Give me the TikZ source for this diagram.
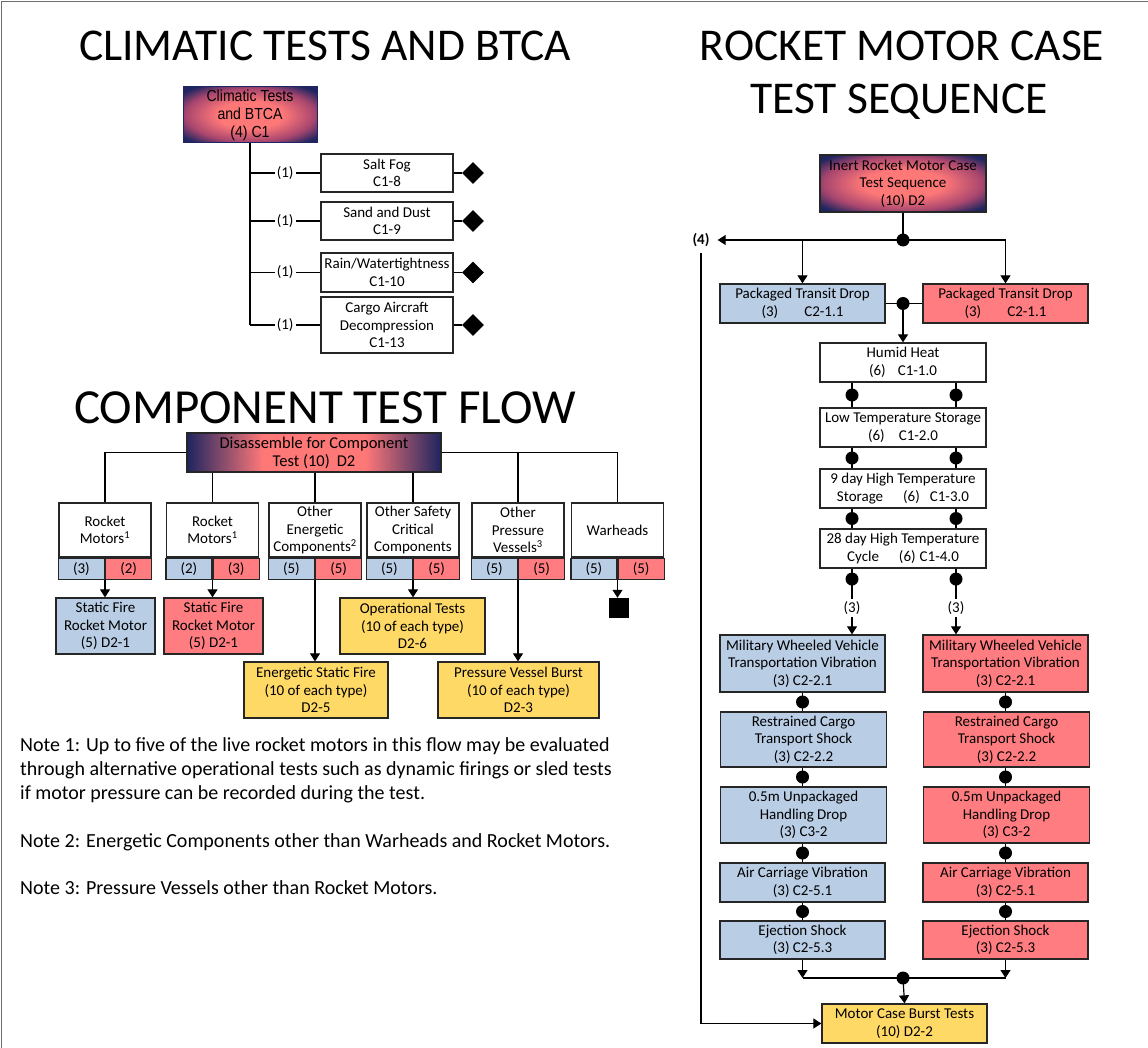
\documentclass[tikz,border=0pt]{standalone}
\usepackage{fontspec}
\setmainfont{Carlito}
\newfontfamily\narrowsans[FakeStretch=0.88]{Liberation Sans}
\usetikzlibrary{arrows.meta,shapes.geometric,calc}

\definecolor{gnavy}{HTML}{1E2560}
\definecolor{gpink}{HTML}{FF7878}
\definecolor{gmid}{HTML}{A8466E}
\definecolor{bluebox}{HTML}{B9CDE5}
\definecolor{redbox}{HTML}{FF7C80}
\definecolor{yelbox}{HTML}{FFD966}
\definecolor{edge}{HTML}{262626}
\definecolor{frame}{HTML}{6E6E6E}

\pgfdeclareradialshading{glow}{\pgfpoint{0bp}{0bp}}{color(0bp)=(gpink); color(12bp)=(gpink); color(24bp)=(gmid); color(32bp)=(gnavy); color(50bp)=(gnavy)}
\pgfdeclarehorizontalshading{band}{100bp}{color(0bp)=(gnavy); color(25bp)=(gnavy); color(40bp)=(gpink); color(60bp)=(gpink); color(75bp)=(gnavy); color(100bp)=(gnavy)}

\newcommand\bodyfont{\fontsize{15}{17.5}\selectfont}
\newcommand\notefont{\fontsize{20}{24}\selectfont}
\newcommand\titlefont{\fontsize{45.5}{50}\selectfont}

\tikzset{
  box/.style={draw=edge, line width=1.3pt, align=center, inner sep=0pt, font=\bodyfont},
  wbox/.style={box, fill=white},
  bbox/.style={box, fill=bluebox},
  rbox/.style={box, fill=redbox},
  ybox/.style={box, fill=yelbox},
  sz/.style 2 args={minimum width=#1 pt, minimum height=#2 pt},
  conn/.style={line width=1.2pt, draw=black},
  arr/.style={conn, -{Triangle[width=10pt,length=8pt]}},
  jdot/.style={circle, fill=black, inner sep=0pt, minimum size=13pt},
  lbl/.style={font=\bodyfont, fill=white, inner xsep=2pt, inner ysep=1pt},
  dmark/.style={diamond, fill=black, inner sep=0pt, minimum width=22pt, minimum height=22pt},
  title/.style={font=\titlefont, anchor=base, inner sep=0pt},
  note/.style={font=\notefont, anchor=base west, inner sep=0pt},
}

% component column: white header with a blue/red split footer
\newcommand\compcol[5]{%
  \node[wbox, sz={92}{54}] (#1) at (#2,530) {#3};
  \node[bbox, sz={46}{21}, anchor=north east] (#1a) at (#1.south) {#4};
  \node[rbox, sz={46}{21}, anchor=north west] (#1b) at (#1.south) {#5};
}

\begin{document}
\begin{tikzpicture}[x=1pt, y=-1pt]
\useasboundingbox (0,0) rectangle (1148,1048);
\fill[white] (0,0) rectangle (1148,1048);
\draw[frame, line width=1.2pt] (1.5,1048) -- (1.5,1.5) -- (1148,1.5);

% ---------- titles ----------
\node[title] (t1) at (325,61) {CLIMATIC TESTS AND BTCA};
\node[title] (t2a) at (902,61) {ROCKET MOTOR CASE};
\node[title] (t2b) at (899,114) {TEST SEQUENCE};
\node[title, font=\fontsize{49}{54}\selectfont] (t3) at (325,423) {COMPONENT TEST FLOW};

% ---------- climatic tests ----------
\node[draw=gnavy, line width=1pt, shading=glow, sz={134}{56}, align=center, inner sep=0pt,
      font=\narrowsans\fontsize{16}{18}\selectfont] (clim) at (250,115) {Climatic Tests\\and BTCA\\(4) C1};
\node[wbox, sz={132}{38}] (salt) at (387,173) {Salt Fog\\C1-8};
\node[wbox, sz={132}{38}] (sand) at (387,221) {Sand and Dust\\C1-9};
\node[wbox, sz={132}{39}] (rain) at (387,272.5) {Rain/Watertightness\\C1-10};
\node[wbox, sz={132}{56}] (cargo) at (387,325) {Cargo Aircraft\\Decompression\\C1-13};
\node[dmark] (dm1) at (473,173) {};
\node[dmark] (dm2) at (473,221) {};
\node[dmark] (dm3) at (473,272.5) {};
\node[dmark] (dm4) at (473,325) {};

\draw[conn] (clim.south) -- (clim.south |- cargo.west);
\foreach \b in {salt,sand,rain,cargo}{
  \draw[conn] (clim.south |- \b.west) -- node[lbl] {(1)} (\b.west);
}
\draw[conn] (salt.east) -- (dm1.west);
\draw[conn] (sand.east) -- (dm2.west);
\draw[conn] (rain.east) -- (dm3.west);
\draw[conn] (cargo.east) -- (dm4.west);

% ---------- component test flow ----------
\node[draw=edge, line width=1.3pt, shading=band, sz={254}{39}, align=center, inner sep=0pt,
      font=\fontsize{16.5}{18}\selectfont] (dis) at (314,452.5) {Disassemble for Component\\Test (10)\hspace{7pt}D2};

\compcol{rma}{105}{Rocket\\Motors\textsuperscript{1}}{(3)}{(2)}
\compcol{rmb}{212.5}{Rocket\\Motors\textsuperscript{1}}{(2)}{(3)}
\compcol{oec}{315}{Other\\Energetic\\Components\textsuperscript{2}}{(5)}{(5)}
\compcol{osc}{413}{Other Safety\\Critical\\Components}{(5)}{(5)}
\compcol{opv}{518}{Other\\Pressure\\Vessels\textsuperscript{3}}{(5)}{(5)}
\compcol{wh}{617.5}{Warheads}{(5)}{(5)}

\draw[conn] (dis.west) -| (rma.north);
\draw[conn] (dis.east) -| (wh.north);
\draw[conn] (opv.north) -- (opv.north |- dis.east);
\draw[conn] (rmb.north) -- (rmb.north |- dis.south);
\draw[conn] (oec.north) -- (oec.north |- dis.south);
\draw[conn] (osc.north) -- (osc.north |- dis.south);

\node[bbox, sz={99}{56}] (sfa) at (105.5,626) {Static Fire\\Rocket Motor\\(5) D2-1};
\node[rbox, sz={99}{56}] (sfb) at (213.5,626) {Static Fire\\Rocket Motor\\(5) D2-1};
\node[ybox, sz={144}{56}] (esf) at (316,690) {Energetic Static Fire\\(10 of each type)\\D2-5};
\node[ybox, sz={145}{56}] (opt) at (412.5,626) {Operational Tests\\(10 of each type)\\D2-6};
\node[ybox, sz={161}{56}] (pvb) at (518.5,690) {Pressure Vessel Burst\\(10 of each type)\\D2-3};
\node[fill=black, inner sep=0pt, minimum size=20pt] (sq) at (618.5,608) {};

\draw[arr] (rmaa.south east) -- (rmaa.south east |- sfa.north);
\draw[arr] (rmba.south east) -- (rmba.south east |- sfb.north);
\draw[arr] (oeca.south east) -- (oeca.south east |- esf.north);
\draw[arr] (osca.south east) -- (osca.south east |- opt.north);
\draw[arr] (opva.south east) -- (opva.south east |- pvb.north);
\draw[arr] (wha.south east) -- (wha.south east |- sq.north);

% ---------- notes ----------
\node[note] (n1a) at (20,751.5) {Note 1: Up to five of the live rocket motors in this flow may be evaluated};
\node[note] (n1b) at (20,775.5) {through alternative operational tests such as dynamic firings or sled tests};
\node[note] (n1c) at (20,799.5) {if motor pressure can be recorded during the test.};
\node[note] (n2) at (20,847.5) {Note 2: Energetic Components other than Warheads and Rocket Motors.};
\node[note] (n3) at (20,894.5) {Note 3: Pressure Vessels other than Rocket Motors.};

% ---------- rocket motor case sequence ----------
\node[box, shading=glow, sz={166}{57}] (inert) at (903,183.5) {Inert Rocket Motor Case\\Test Sequence\\(10) D2};
\node[font=\bodyfont\bfseries, inner xsep=8pt, inner ysep=6pt] (four) at (701,240) {(4)};

\node[bbox, sz={165}{39}] (ptda) at (802.5,303.5) {Packaged Transit Drop\\(3)\hspace{26pt}C2-1.1};
\node[rbox, sz={165}{39}] (ptdb) at (1005.5,303.5) {Packaged Transit Drop\\(3)\hspace{26pt}C2-1.1};

\node[wbox, sz={166}{39}] (hh) at (903,362.5) {Humid Heat\\(6)\hspace{12pt}C1-1.0};
\node[wbox, sz={166}{39}] (lt) at (903,427.5) {Low Temperature Storage\\(6)\hspace{14pt}C1-2.0};
\node[wbox, sz={166}{39}] (hta) at (903,488.5) {9 day High Temperature\\Storage\hspace{20pt}(6)\hspace{10pt}C1-3.0};
\node[wbox, sz={166}{39}] (htb) at (903,548.5) {28 day High Temperature\\Cycle\hspace{20pt}(6)\hspace{4pt}C1-4.0};

\node[font=\bodyfont, inner sep=2pt] (cnta) at (852,608) {(3)};
\node[font=\bodyfont, inner sep=2pt] (cntb) at (956,608) {(3)};

\node[bbox, sz={165}{57}] (mwa) at (802.5,663.5) {Military Wheeled Vehicle\\Transportation Vibration\\(3) C2-2.1};
\node[bbox, sz={166}{55}] (rca) at (803.5,739.5) {Restrained Cargo\\Transport Shock\\(3) C2-2.2};
\node[bbox, sz={166}{56}] (uda) at (803.5,815) {0.5m Unpackaged\\Handling Drop\\(3) C3-2};
\node[bbox, sz={165}{39}] (aca) at (802.5,882.5) {Air Carriage Vibration\\(3) C2-5.1};
\node[bbox, sz={165}{38}] (eja) at (802.5,940) {Ejection Shock\\(3) C2-5.3};

\node[rbox, sz={165}{57}] (mwb) at (1005.5,663.5) {Military Wheeled Vehicle\\Transportation Vibration\\(3) C2-2.1};
\node[rbox, sz={166}{55}] (rcb) at (1006.5,739.5) {Restrained Cargo\\Transport Shock\\(3) C2-2.2};
\node[rbox, sz={166}{56}] (udb) at (1006.5,815) {0.5m Unpackaged\\Handling Drop\\(3) C3-2};
\node[rbox, sz={165}{39}] (acb) at (1005.5,882.5) {Air Carriage Vibration\\(3) C2-5.1};
\node[rbox, sz={165}{38}] (ejb) at (1005.5,940) {Ejection Shock\\(3) C2-5.3};

\node[ybox, sz={165}{39}] (burst) at (904.5,1023.5) {Motor Case Burst Tests\\(10) D2-2};

% split after the inert case
\coordinate (jt) at (903,240);
\draw[conn] (inert.south) -- (jt);
\draw[arr] (jt) -- (four.east);
\draw[arr] (jt) -| (ptdb.north);
\draw[arr] (ptda.north |- jt) -- (ptda.north);
\node[jdot] at (jt) {};

% merge of the two transit drops
\coordinate (jm) at (903,303.5);
\draw[conn] (ptda.east) -- (ptdb.west);
\draw[arr] (jm) -- (hh.north);
\node[jdot] at (jm) {};

% climatic chain, two strands
\foreach \c in {cnta,cntb}{
  \draw[conn] (hh.south -| \c) -- node[jdot] {} (lt.north -| \c);
  \draw[conn] (lt.south -| \c) -- node[jdot] {} (hta.north -| \c);
  \draw[conn] (hta.south -| \c) -- node[jdot] {} (htb.north -| \c);
  \draw[conn] (htb.south -| \c) -- node[jdot, pos=0.34] {} (\c.north);
}
\draw[arr] (cnta.south) -- (cnta.south |- mwa.north);
\draw[arr] (cntb.south) -- (cntb.south |- mwb.north);

% transport chains
\draw[conn] (mwa.south) -- node[jdot] {} (mwa.south |- rca.north);
\draw[conn] (rca.south -| mwa.south) -- node[jdot] {} (mwa.south |- uda.north);
\draw[conn] (uda.south -| mwa.south) -- node[jdot] {} (mwa.south |- aca.north);
\draw[conn] (aca.south) -- node[jdot] {} (eja.north);
\draw[conn] (mwb.south) -- node[jdot] {} (mwb.south |- rcb.north);
\draw[conn] (rcb.south -| mwb.south) -- node[jdot] {} (mwb.south |- udb.north);
\draw[conn] (udb.south -| mwb.south) -- node[jdot] {} (mwb.south |- acb.north);
\draw[conn] (acb.south) -- node[jdot] {} (ejb.north);

% final merge into burst tests
\coordinate (jb) at (903,978);
\draw[conn] (eja.south |- jb) -- (ejb.south |- jb);
\draw[arr] (eja.south) -- (eja.south |- jb);
\draw[arr] (ejb.south) -- (ejb.south |- jb);
\draw[arr] (jb) -- (burst.north);
\node[jdot] at (jb) {};

% bypass of four units
\draw[arr] (four.south) |- (burst.west);
\end{tikzpicture}
\end{document}
